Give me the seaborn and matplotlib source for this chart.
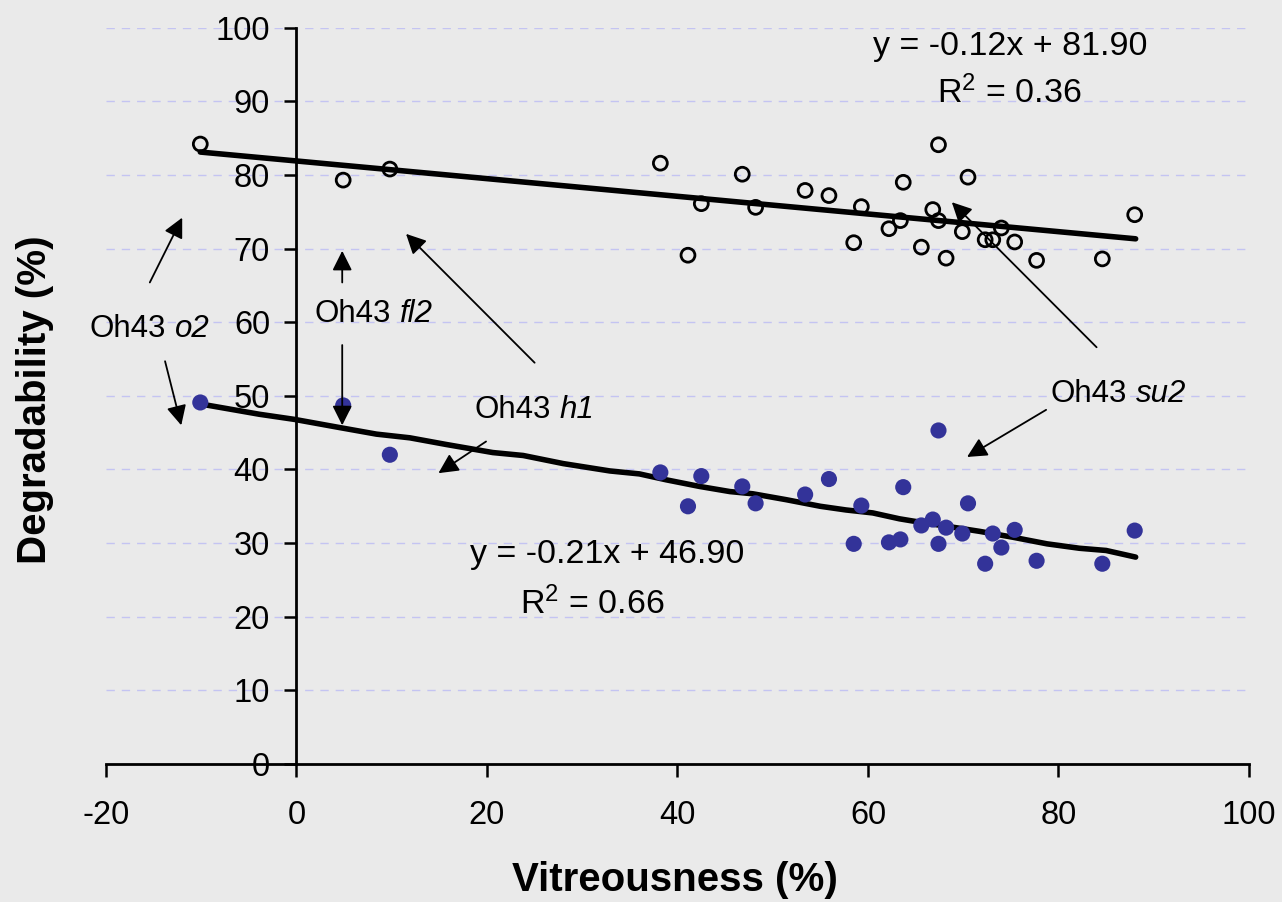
import numpy as np
import pandas as pd
import matplotlib
matplotlib.use('Agg')
import matplotlib.pyplot as plt
import seaborn as sns

# values
vitreousness = [-10.1, 4.9, 9.8, 38.2, 41.1, 42.5, 46.8, 48.2, 53.4, 55.9, 58.5, 59.3, 62.2, 63.4, 63.7,
                65.6, 66.8, 67.4, 67.4, 68.2, 69.9, 70.5, 72.3, 73.1, 74.0, 75.4, 77.7, 84.6, 88.0]
degr_open = [84.2, 79.3, 80.8, 81.6, 69.1, 76.1, 80.1, 75.6, 77.9, 77.2, 70.8, 75.7, 72.7, 73.8, 79.0,
             70.2, 75.3, 73.8, 84.1, 68.7, 72.3, 79.7, 71.2, 71.2, 72.8, 70.9, 68.4, 68.6, 74.6]
degr_filled = [49.1, 48.7, 42.0, 39.6, 35.0, 39.1, 37.7, 35.4, 36.6, 38.7, 29.9, 35.1, 30.1, 30.5, 37.6,
               32.4, 33.2, 29.9, 45.3, 32.1, 31.3, 35.4, 27.2, 31.3, 29.4, 31.8, 27.6, 27.2, 31.7]

# lower trend line as drawn (slightly wavy in the original)
fit_x = [-10.1, -3.9, -0.2, 4.5, 8.4, 11.9, 15.7, 20.6, 23.8, 28.0, 32.9, 36.0, 38.8, 42.3, 45.5,
         47.9, 51.4, 55.0, 57.7, 60.5, 63.3, 64.7, 68.2, 71.7, 75.2, 78.8, 82.2, 85.0, 88.1]
fit_y = [48.9, 47.5, 46.8, 45.7, 44.8, 44.3, 43.4, 42.3, 41.9, 40.8, 39.8, 39.4, 38.6, 37.7, 37.0,
         36.7, 35.9, 35.0, 34.5, 34.1, 33.3, 33.0, 32.3, 31.6, 30.8, 29.9, 29.3, 29.0, 28.1]

# upper trend line from its equation
top_slope, top_icpt = -0.12, 81.90

# genotype labels: (plain part, italic part, left x, baseline y)
labels = [('Oh43', 'o2', -21.7, 58.0),
          ('Oh43', 'fl2', 1.9, 60.0),
          ('Oh43', 'h1', 18.7, 47.0),
          ('Oh43', 'su2', 79.2, 49.2)]

df = pd.DataFrame({'vit': vitreousness, 'open': degr_open, 'filled': degr_filled})
top_x = np.array([df['vit'].min(), 88.1])
top_line = pd.DataFrame({'x': top_x, 'y': top_slope * top_x + top_icpt})
low_line = pd.DataFrame({'x': fit_x, 'y': fit_y})

sns.set_theme(style='white')
plt.rcParams['font.family'] = ['Liberation Sans', 'DejaVu Sans']
plt.rcParams['mathtext.fontset'] = 'custom'
plt.rcParams['mathtext.rm'] = 'Liberation Sans'
plt.rcParams['mathtext.it'] = 'Liberation Sans:italic'
plt.rcParams['mathtext.bf'] = 'Liberation Sans:bold'
plt.rcParams['axes.unicode_minus'] = False
plt.rcParams['text.color'] = 'black'

bg = '#EAEAEA'
fig = plt.figure(figsize=(12.82, 9.02), dpi=100, facecolor=bg)
ax = fig.add_axes([106 / 1282, 1 - 764 / 902, (1249 - 106) / 1282, (764 - 27.7) / 902])
ax.set_facecolor(bg)

ax.set_xlim(-20, 100)
ax.set_ylim(0, 100)
ax.set_xticks(range(-20, 101, 20))
ax.set_yticks(range(0, 101, 10))
ax.yaxis.grid(True, color='#C4C4F2', linestyle=(0, (6, 5)), linewidth=1)
ax.set_axisbelow(True)

sns.lineplot(data=top_line, x='x', y='y', color='black', linewidth=4, sort=False,
             estimator=None, ax=ax, zorder=3)
sns.lineplot(data=low_line, x='x', y='y', color='black', linewidth=4, sort=False,
             estimator=None, ax=ax, zorder=3)
sns.scatterplot(data=df, x='vit', y='open', marker='o', s=100, facecolors='none',
                edgecolors='black', linewidths=2, ax=ax, zorder=4, clip_on=False)
sns.scatterplot(data=df, x='vit', y='filled', marker='o', s=135, color='#333399',
                edgecolor='none', linewidth=0, ax=ax, zorder=4, clip_on=False)

for s in ['top', 'right']:
    ax.spines[s].set_visible(False)
ax.spines['left'].set_position(('data', 0))
for s in ['left', 'bottom']:
    ax.spines[s].set_color('black')
    ax.spines[s].set_linewidth(2)
ax.tick_params(axis='both', direction='out', length=9, width=1.8, color='black',
               labelsize=23.5, labelcolor='black', bottom=True, left=True)
ax.tick_params(axis='x', pad=17)
ax.tick_params(axis='y', pad=10)
ax.set_xlabel('')
ax.set_ylabel('')

fig.text(675 / 1282, 1 - 880 / 902, 'Vitreousness (%)', fontsize=29, fontweight='bold',
         ha='center', va='center')
fig.text(35 / 1282, 1 - 400 / 902, 'Degradability (%)', fontsize=29, fontweight='bold',
         rotation=90, ha='center', va='center')

eq_fs = 24.5
ax.text(74.9, 96.3, 'y = -0.12x + 81.90', fontsize=eq_fs, ha='center', va='baseline')
ax.text(74.8, 89.7, 'R$^2$ = 0.36', fontsize=eq_fs, ha='center', va='baseline')
ax.text(32.6, 27.3, 'y = -0.21x + 46.90', fontsize=eq_fs, ha='center', va='baseline')
ax.text(31.0, 20.3, 'R$^2$ = 0.66', fontsize=eq_fs, ha='center', va='baseline')

fs = 22.5
for plain, ital, lx, ly in labels:
    t = ax.text(lx, ly, plain, fontsize=fs, ha='left', va='baseline')
    ax.annotate(ital, xy=(1, 0), xycoords=t, xytext=(0.278 * fs, 0), textcoords='offset points',
                fontsize=fs, fontstyle='italic', ha='left', va='bottom')

arrows = [
    ((-15.4, 65.4), (-12.0, 74.2)),
    ((-13.8, 54.7), (-12.1, 46.0)),
    ((4.8, 65.4), (4.8, 69.7)),
    ((4.8, 56.9), (4.8, 46.0)),
    ((25.0, 54.5), (11.5, 72.0)),
    ((19.9, 43.8), (14.9, 39.5)),
    ((84.0, 56.6), (68.8, 76.3)),
    ((78.7, 48.1), (70.4, 41.7)),
]
for tail, head in arrows:
    ax.annotate('', xy=head, xytext=tail,
                arrowprops=dict(arrowstyle='-|>', color='black', lw=1.3,
                                mutation_scale=30, shrinkA=0, shrinkB=0), zorder=5)

fig.savefig('out.png', dpi=100, facecolor=bg)
